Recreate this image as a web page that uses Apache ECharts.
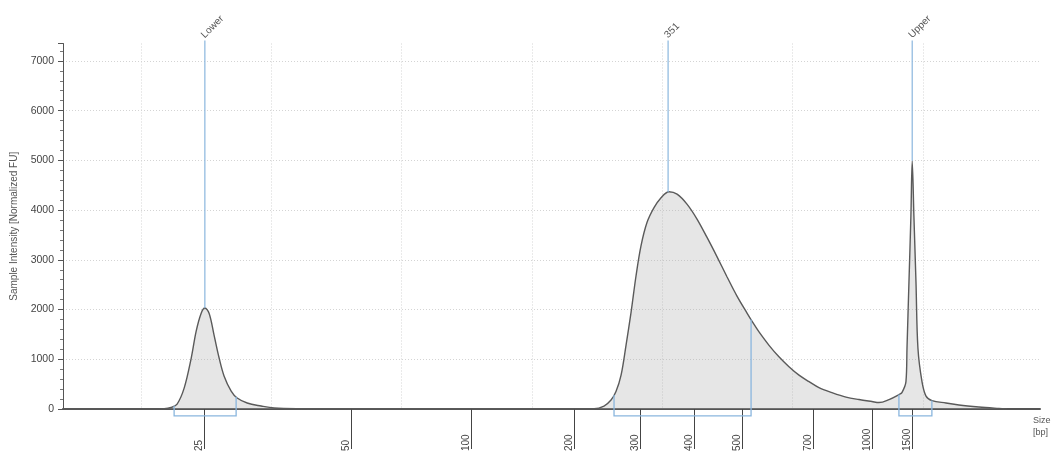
<!DOCTYPE html>
<html><head><meta charset="utf-8">
<script src="https://cdn.jsdelivr.net/npm/echarts@6/dist/echarts.min.js"></script>
<style>html,body{margin:0;padding:0;background:#fff}#c{width:1058px;height:454px}</style>
</head><body><div id="c"></div>
<script>
// migration position (arbitrary run units) and sample intensity [normalized FU]
const positions = [24.0, 30.61, 31.77, 32.30, 32.76, 33.30, 33.84, 34.22, 34.60, 34.89, 35.22, 35.60, 35.99, 36.37, 36.91, 37.37, 38.14, 39.21, 40.21, 42.13, 49.80, 57.47, 62.08, 64.77, 65.53, 66.07, 66.45, 66.84, 67.22, 67.61, 67.99, 68.37, 68.83, 69.37, 69.91, 70.52, 71.14, 71.90, 72.67, 73.44, 74.21, 74.97, 75.74, 76.51, 77.05, 77.43, 78.20, 78.96, 79.73, 80.50, 81.27, 82.03, 83.03, 84.11, 85.10, 86.10, 86.64, 87.41, 88.17, 88.40, 88.71, 88.79, 88.94, 89.09, 89.19, 89.32, 89.48, 89.63, 89.94, 90.25, 90.71, 91.78, 92.78, 94.31, 95.85, 96.46];
const intensities = [0, 0, 5, 30, 100, 420, 1020, 1560, 1920, 2030, 1920, 1480, 1020, 660, 360, 220, 120, 60, 20, 8, 5, 5, 5, 5, 60, 180, 350, 680, 1280, 1950, 2680, 3280, 3750, 4050, 4250, 4370, 4320, 4120, 3820, 3450, 3060, 2660, 2270, 1930, 1700, 1550, 1280, 1050, 850, 680, 550, 430, 330, 240, 190, 150, 130, 190, 290, 330, 550, 1220, 2550, 3880, 4990, 3880, 2550, 1220, 550, 260, 170, 120, 80, 40, 10, 0];

// size ladder (bp) shown under the axis
const ladderPositions = [34.83, 46.12, 55.33, 63.23, 68.30, 72.44, 76.12, 81.57, 86.10, 89.17];
const ladderLabels = ['25', '50', '100', '200', '300', '400', '500', '700', '1000', '1500'];

// grid divisions of the run axis
const gridPositions = [30, 40, 50, 60, 70, 80, 90];

// called peaks and their integration regions
const peakNames = ['Lower', '351', 'Upper'];
const peakPositions = [34.89, 70.45, 89.19];
const regionStarts = [32.53, 66.30, 88.17];
const regionEnds = [37.29, 76.82, 90.70];

const Y_MAX = 7350;
const REGION_FLOOR = -140;
const BLUE = '#8ab6de';

function curveAt(x) {
  for (let i = 1; i < positions.length; i++) {
    if (x <= positions[i]) {
      const t = (x - positions[i - 1]) / (positions[i] - positions[i - 1]);
      return intensities[i - 1] + t * (intensities[i] - intensities[i - 1]);
    }
  }
  return 0;
}
function ladderLabel(v) {
  let best = 0, d = Infinity;
  ladderPositions.forEach((p, i) => { if (Math.abs(p - v) < d) { d = Math.abs(p - v); best = i; } });
  return ladderLabels[best];
}

const chart = echarts.init(document.getElementById('c'), null, {renderer: 'canvas'});
const FONT = 'Liberation Sans';
chart.setOption({
  animation: false,
  backgroundColor: '#fff',
  textStyle: {fontFamily: FONT},
  grid: {left: 63, right: 18, top: 43.5, bottom: 43, containLabel: false},
  xAxis: [{
    type: 'value', min: 24, max: 99, position: 'bottom',
    axisLine: {show: true, onZero: false, lineStyle: {color: '#555', width: 2}},
    axisTick: {show: false, customValues: gridPositions},
    axisLabel: {show: false},
    splitLine: {show: true, lineStyle: {color: '#d4d4d4', type: [1, 2], width: 1}},
    name: 'Size\n[bp]', nameLocation: 'end', nameGap: -7,
    nameTextStyle: {fontSize: 9, color: '#555', align: 'left', verticalAlign: 'top', lineHeight: 12, padding: [6, 0, 0, 0], fontFamily: FONT}
  }, {
    type: 'value', min: 24, max: 99, position: 'bottom', offset: 7,
    axisLine: {show: false},
    axisTick: {show: true, customValues: ladderPositions, length: 40, lineStyle: {color: '#444', width: 1}},
    axisLabel: {customValues: ladderPositions, rotate: 90, align: 'left', verticalAlign: 'bottom', margin: 35,
      fontSize: 10, color: '#444', fontFamily: FONT, formatter: v => ladderLabel(v)},
    splitLine: {show: false}
  }],
  yAxis: {
    type: 'value', min: 0, max: Y_MAX, interval: 1000,
    name: 'Sample Intensity [Normalized FU]', nameLocation: 'middle', nameGap: 44,
    nameTextStyle: {fontSize: 10, color: '#555', fontFamily: FONT},
    axisLine: {show: true, lineStyle: {color: '#555', width: 1}},
    axisTick: {show: true, length: 5, lineStyle: {color: '#555'}},
    minorTick: {show: true, splitNumber: 5, length: 3, lineStyle: {color: '#777'}},
    axisLabel: {fontSize: 10.5, color: '#444', margin: 9, showMaxLabel: false, fontFamily: FONT, formatter: v => String(v)},
    splitLine: {show: true, showMaxLine: false, lineStyle: {color: '#d4d4d4', type: [1, 2], width: 1}}
  },
  series: [{
    type: 'line', xAxisIndex: 0,
    data: positions.map((p, i) => [p, intensities[i]]),
    showSymbol: false, smooth: 0.35,
    lineStyle: {color: '#5a5a5a', width: 1.4},
    areaStyle: {color: 'rgba(175,175,175,0.45)'},
    z: 2
  }, {
    type: 'custom', xAxisIndex: 0, z: 3,
    data: peakPositions.map((p, i) => [p, 0, i]),
    renderItem: (params, api) => {
      const i = api.value(2);
      const x = peakPositions[i];
      const top = api.coord([x, Y_MAX]);
      const bot = api.coord([x, curveAt(x)]);
      return {type: 'group', children: [
        {type: 'line', shape: {x1: top[0], y1: top[1] - 3, x2: bot[0], y2: bot[1]}, style: {stroke: BLUE, lineWidth: 1.2}},
        {type: 'text', x: top[0] - 2, y: top[1] - 7, rotation: Math.PI / 4,
          style: {text: peakNames[i], fontSize: 10, fill: '#555', fontFamily: FONT, align: 'left', verticalAlign: 'middle'}}
      ]};
    }
  }, {
    type: 'custom', xAxisIndex: 0, z: 4,
    data: regionStarts.map((p, i) => [p, 0, i]),
    renderItem: (params, api) => {
      const i = api.value(2);
      const a = regionStarts[i], b = regionEnds[i];
      const p1 = api.coord([a, curveAt(a)]);
      const p2 = api.coord([a, REGION_FLOOR]);
      const p3 = api.coord([b, REGION_FLOOR]);
      const p4 = api.coord([b, curveAt(b)]);
      return {type: 'polyline', shape: {points: [p1, p2, p3, p4]}, style: {stroke: BLUE, lineWidth: 1.3, fill: null}};
    }
  }]
});
</script></body></html>
